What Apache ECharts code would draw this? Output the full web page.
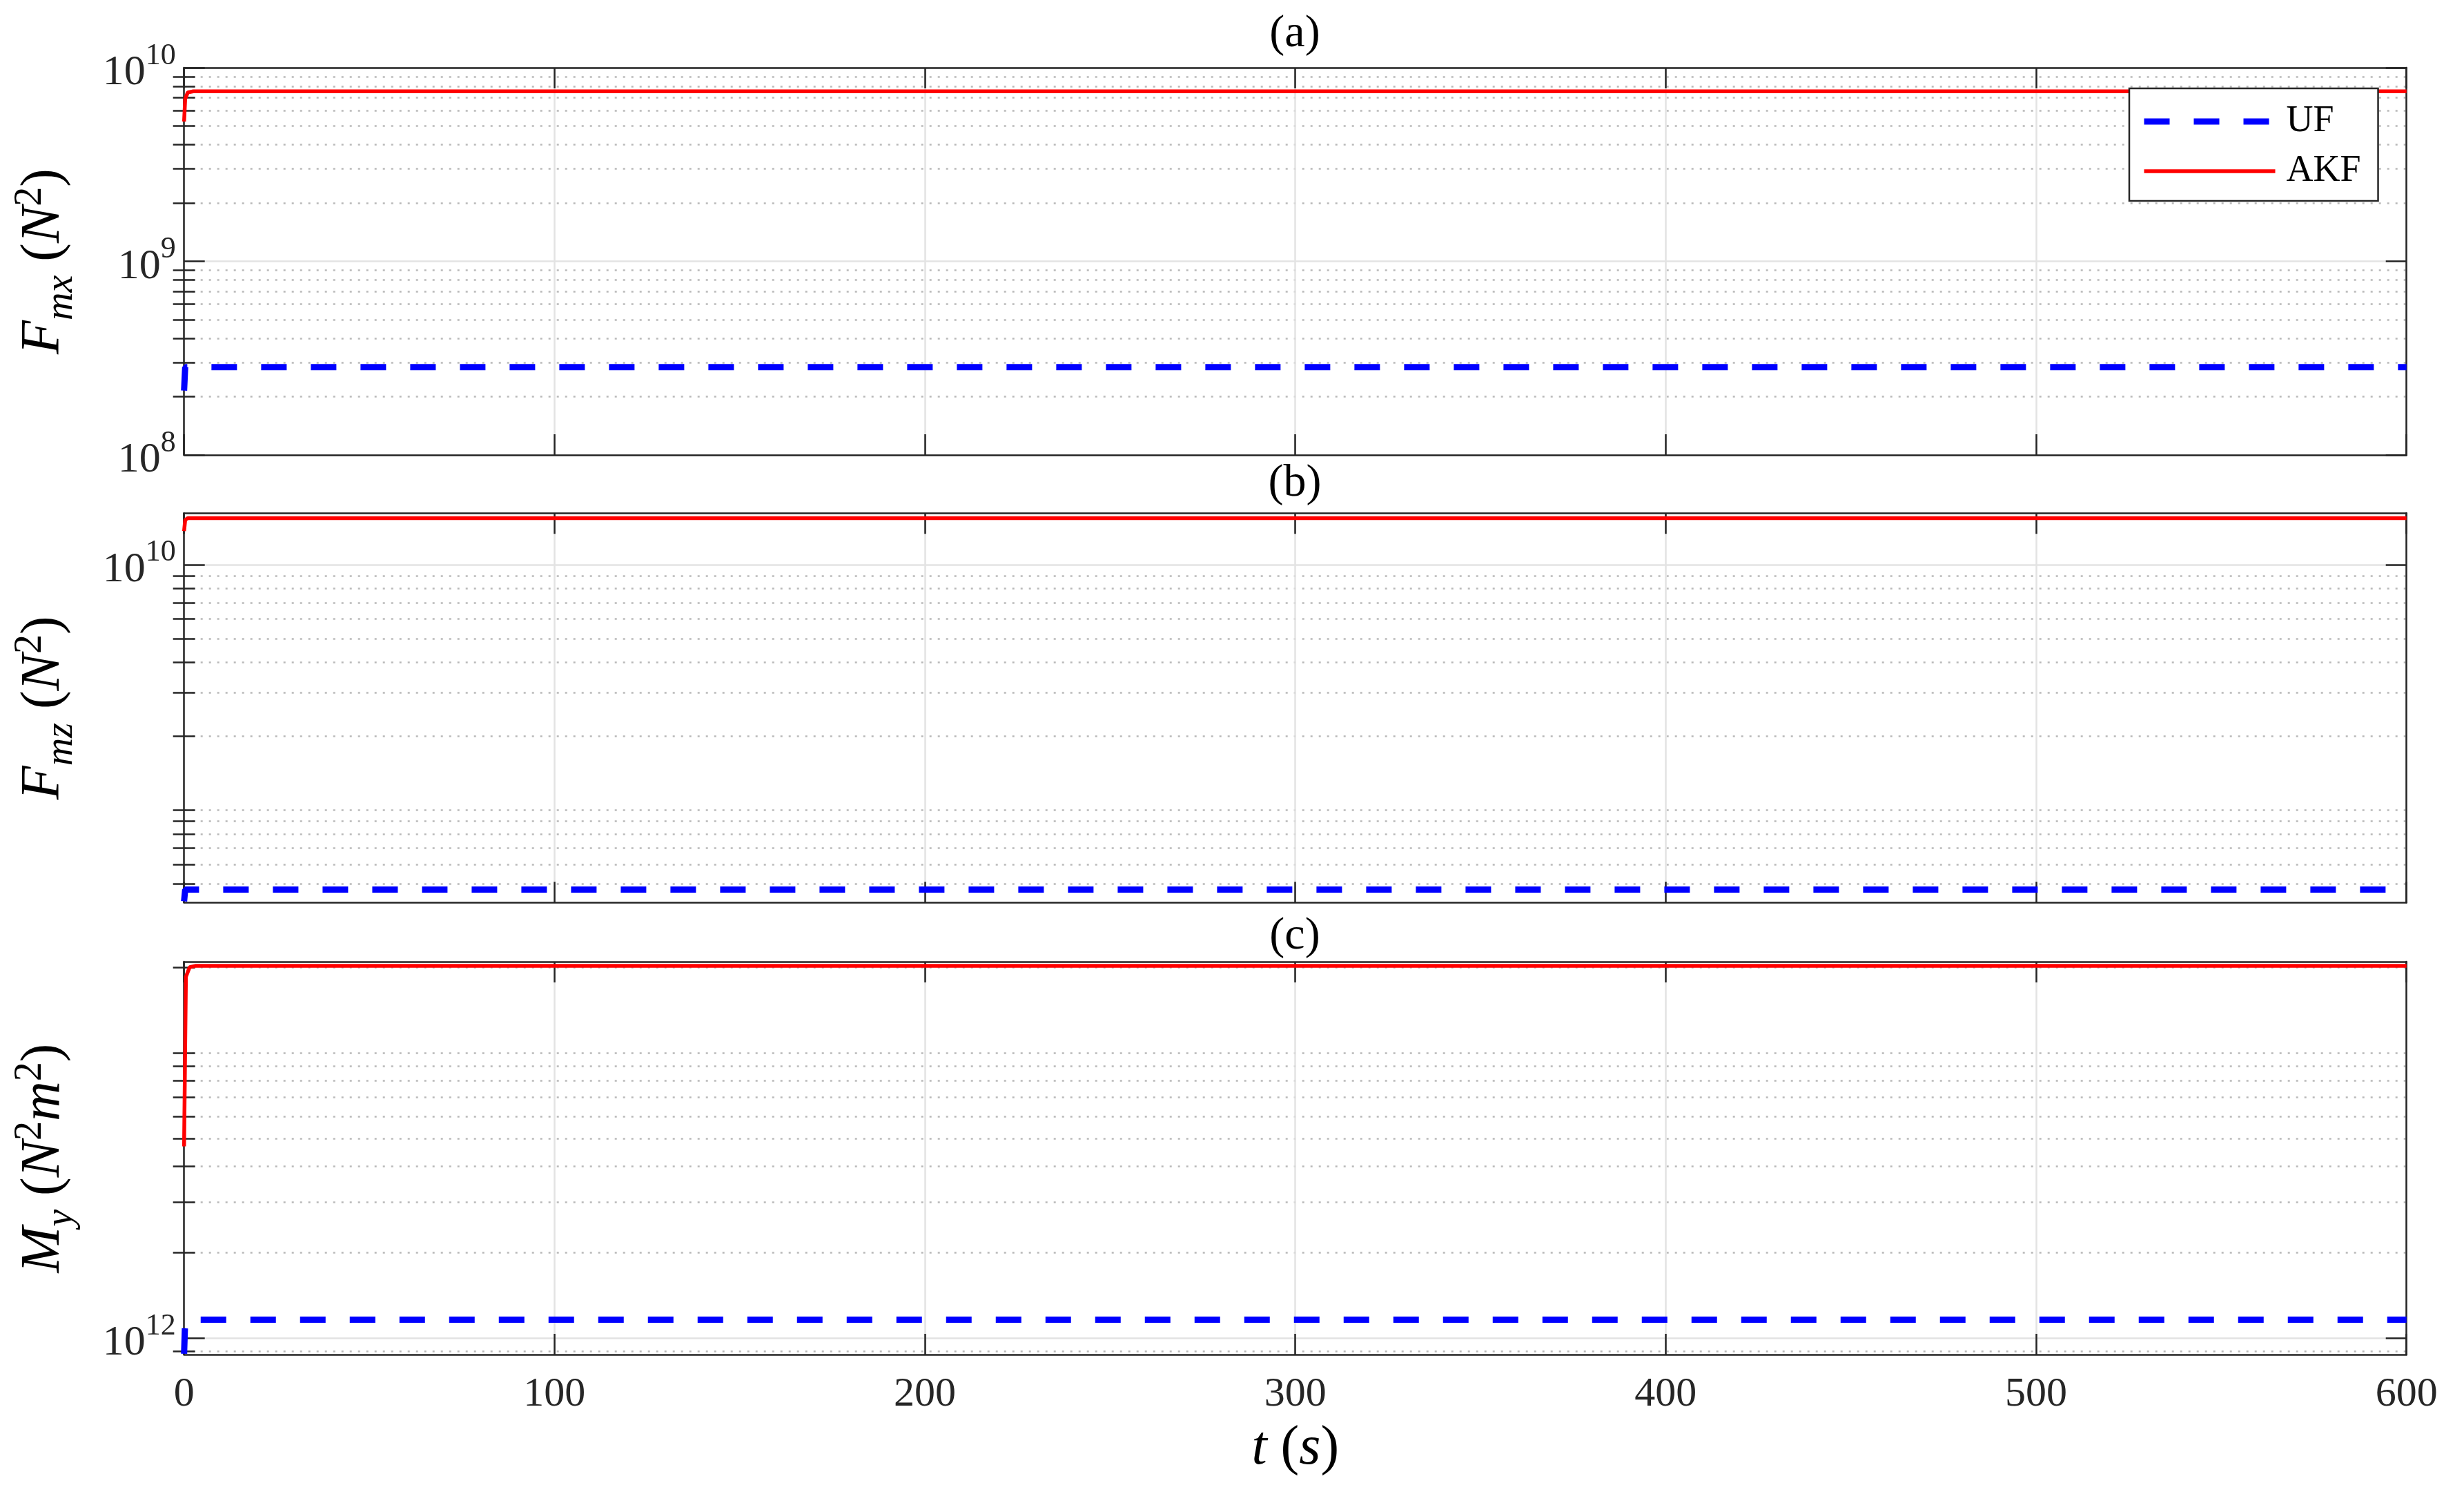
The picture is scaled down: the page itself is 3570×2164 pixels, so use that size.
<!DOCTYPE html>
<html><head><meta charset="utf-8">
<script src="https://cdn.jsdelivr.net/npm/echarts@6/dist/echarts.min.js"></script>
<style>html,body{margin:0;padding:0;background:#fff}#c{width:3570px;height:2164px}</style>
</head><body><div id="c"></div><script>
// ---------------- data ----------------
const panelTitles = ['(a)', '(b)', '(c)'];
const seriesNames = ['UF', 'AKF'];
const xTickValues = [0, 100, 200, 300, 400, 500, 600];

const tUF_a  = [0, 0.3, 600];
const UF_a   = [2.15e8, 2.84e8, 2.84e8];
const tAKF_a = [0, 0.3, 1, 2.5, 600];
const AKF_a  = [5.27e9, 6.9e9, 7.45e9, 7.55e9, 7.55e9];

const tUF_b  = [0, 0.3, 600];
const UF_b   = [4.25e8, 4.74e8, 4.74e8];
const tAKF_b = [0, 0.3, 1, 600];
const AKF_b  = [1.37e10, 1.52e10, 1.547e10, 1.547e10];

const tUF_c  = [0, 0.3, 600];
const UF_c   = [8.8e11, 1.16e12, 1.16e12];
const tAKF_c = [0, 0.5, 1.5, 3, 600];
const AKF_c  = [4.7e12, 1.85e13, 2.0e13, 2.02e13, 2.02e13];

const yMin = [1e8, 4.2e8, 8.75e11];
const yMax = [1e10, 1.62e10, 2.09e13];
const yMajorTicks = [[1e8, 1e9, 1e10], [1e10], [1e12]];
const yMinorTicks = [
  [2e8,3e8,4e8,5e8,6e8,7e8,8e8,9e8, 2e9,3e9,4e9,5e9,6e9,7e9,8e9,9e9],
  [5e8,6e8,7e8,8e8,9e8, 1e9, 2e9,3e9,4e9,5e9,6e9,7e9,8e9,9e9],
  [9e11, 2e12,3e12,4e12,5e12,6e12,7e12,8e12,9e12, 1e13, 2e13]
];
// axis names (rich-text markup: it = italic, up = upright, sub/sup = sub/superscript)
const yNames = [
  '{it|F}{sub|mx}{up| (}{it|N}{sup|2}{up|)}',
  '{it|F}{sub|mz}{up| (}{it|N}{sup|2}{up|)}',
  '{it|M}{sub|y}{up| (}{it|N}{sup|2}{it|m}{sup|2}{up|)}'
];
const xName = '{it|t}{up| (}{it|s}{up|)}';

// ---------------- styling ----------------
const FONT = '"Liberation Serif", "Times New Roman", serif';
const AX = '#262626';
const grids = [
  {left: 266.7, top: 98,    width: 3220, height: 561},
  {left: 266.7, top: 743.3, width: 3220, height: 564},
  {left: 266.7, top: 1393,  width: 3220, height: 569}
];
const titleTops = [17, 668, 1324];
const seriesColors = ['#0000ff', '#ff0000'];

const nameRich = {
  it:  {fontFamily: FONT, fontStyle: 'italic', fontSize: 80, lineHeight: 80, color: '#000', padding: [8,0,13,0]},
  up:  {fontFamily: FONT, fontSize: 80, lineHeight: 80, color: '#000', padding: [8,0,13,0]},
  sub: {fontFamily: FONT, fontStyle: 'italic', fontSize: 56, lineHeight: 56, color: '#000', padding: [45,0,0,0]},
  sup: {fontFamily: FONT, fontSize: 56, lineHeight: 56, color: '#000', padding: [0,0,45,0]}
};
const tickRich = {
  b: {fontFamily: FONT, fontSize: 62, lineHeight: 62, color: AX, padding: [16,0,0,0]},
  s: {fontFamily: FONT, fontSize: 44, lineHeight: 44, color: AX, padding: [0,0,34,0]}
};

function zip(t, v) { return t.map((x, i) => [x, v[i]]); }
const panelData = [
  [zip(tUF_a, UF_a), zip(tAKF_a, AKF_a)],
  [zip(tUF_b, UF_b), zip(tAKF_b, AKF_b)],
  [zip(tUF_c, UF_c), zip(tAKF_c, AKF_c)]
];

const axLine = {show: true, onZero: false, lineStyle: {color: AX, width: 2.5}};
const xAxes = [], yAxes = [], series = [], titles = [];
for (let i = 0; i < 3; i++) {
  titles.push({text: panelTitles[i], left: 1876, top: titleTops[i], textAlign: 'center', padding: 0,
    textStyle: {fontFamily: FONT, fontSize: 66, fontWeight: 'normal', color: '#000'}});
  xAxes.push({gridIndex: i, type: 'value', position: 'bottom', min: xTickValues[0], max: xTickValues[xTickValues.length-1], interval: 100,
    axisLine: axLine,
    axisTick: {show: true, inside: true, length: 30, lineStyle: {color: AX, width: 2.5}},
    axisLabel: {show: i === 2, fontSize: 60, fontFamily: FONT, color: AX, margin: 28},
    splitLine: {show: true, lineStyle: {color: '#e3e3e3', width: 2.5}},
    name: i === 2 ? xName : '', nameLocation: 'middle', nameGap: 92,
    nameTextStyle: {rich: nameRich}});
  xAxes.push({gridIndex: i, type: 'value', position: 'top', min: xTickValues[0], max: xTickValues[xTickValues.length-1], interval: 100,
    axisLine: axLine,
    axisTick: {show: true, inside: true, length: 30, lineStyle: {color: AX, width: 2.5}},
    axisLabel: {show: false}, splitLine: {show: false}});
  const base = {gridIndex: i, type: 'log', logBase: 10, min: yMin[i], max: yMax[i]};
  // major left (labels, solid grid)
  yAxes.push(Object.assign({}, base, {position: 'left',
    axisLine: axLine,
    axisTick: {show: true, inside: true, length: 30, customValues: yMajorTicks[i], lineStyle: {color: AX, width: 2.5}},
    axisLabel: {show: true, customValues: yMajorTicks[i], margin: 12,
      formatter: v => '{b|10}{s|' + Math.round(Math.log10(v)) + '}', rich: tickRich},
    splitLine: {show: true, lineStyle: {color: '#e3e3e3', width: 2.5}},
    name: yNames[i], nameLocation: 'middle', nameRotate: 90, nameGap: 160,
    nameTextStyle: {rich: nameRich}}));
  // major right
  yAxes.push(Object.assign({}, base, {position: 'right',
    axisLine: axLine,
    axisTick: {show: true, inside: true, length: 30, customValues: yMajorTicks[i], lineStyle: {color: AX, width: 2.5}},
    axisLabel: {show: false}, splitLine: {show: false}}));
  // minor (one per side, dotted grid)
  yAxes.push(Object.assign({}, base, {position: 'left',
    axisLine: {show: false},
    axisTick: {show: true, inside: true, length: 16, customValues: yMinorTicks[i], lineStyle: {color: AX, width: 2.5}},
    axisLabel: {show: false},
    splitLine: {show: true, lineStyle: {color: '#b9b9b9', width: 2.5, type: [3, 9]}}}));
  yAxes.push(Object.assign({}, base, {position: 'right',
    axisLine: {show: false},
    axisTick: {show: true, inside: true, length: 16, customValues: yMinorTicks[i], lineStyle: {color: AX, width: 2.5}},
    axisLabel: {show: false}, splitLine: {show: false}}));

  series.push({name: seriesNames[0], type: 'line', xAxisIndex: i*2, yAxisIndex: i*4,
    data: panelData[i][0], symbol: 'none', showSymbol: false, clip: false, z: 3,
    itemStyle: {color: seriesColors[0]},
    lineStyle: {color: seriesColors[0], width: 9, type: [37, 35]}});
  series.push({name: seriesNames[1], type: 'line', xAxisIndex: i*2, yAxisIndex: i*4,
    data: panelData[i][1], symbol: 'none', showSymbol: false, clip: false, z: 3,
    itemStyle: {color: seriesColors[1]},
    lineStyle: {color: seriesColors[1], width: 5.5, type: 'solid'}});
}

const option = {
  animation: false,
  backgroundColor: '#fff',
  title: titles,
  grid: grids,
  xAxis: xAxes,
  yAxis: yAxes,
  legend: {data: seriesNames, orient: 'vertical', left: 3085, top: 128, align: 'left',
    padding: [17, 25, 12, 17], itemWidth: 190, itemHeight: 30, itemGap: 10,
    borderColor: AX, borderWidth: 2.5, backgroundColor: '#fff', z: 10,
    itemStyle: {opacity: 0},
    lineStyle: {width: 'inherit', type: 'inherit', color: 'inherit'},
    textStyle: {fontFamily: FONT, fontSize: 54, color: '#000', lineHeight: 62, padding: [0, 0, 0, 11]}},
  series: series
};
const chart = echarts.init(document.getElementById('c'), null, {renderer: 'canvas', devicePixelRatio: 1});
chart.setOption(option);
</script></body></html>
